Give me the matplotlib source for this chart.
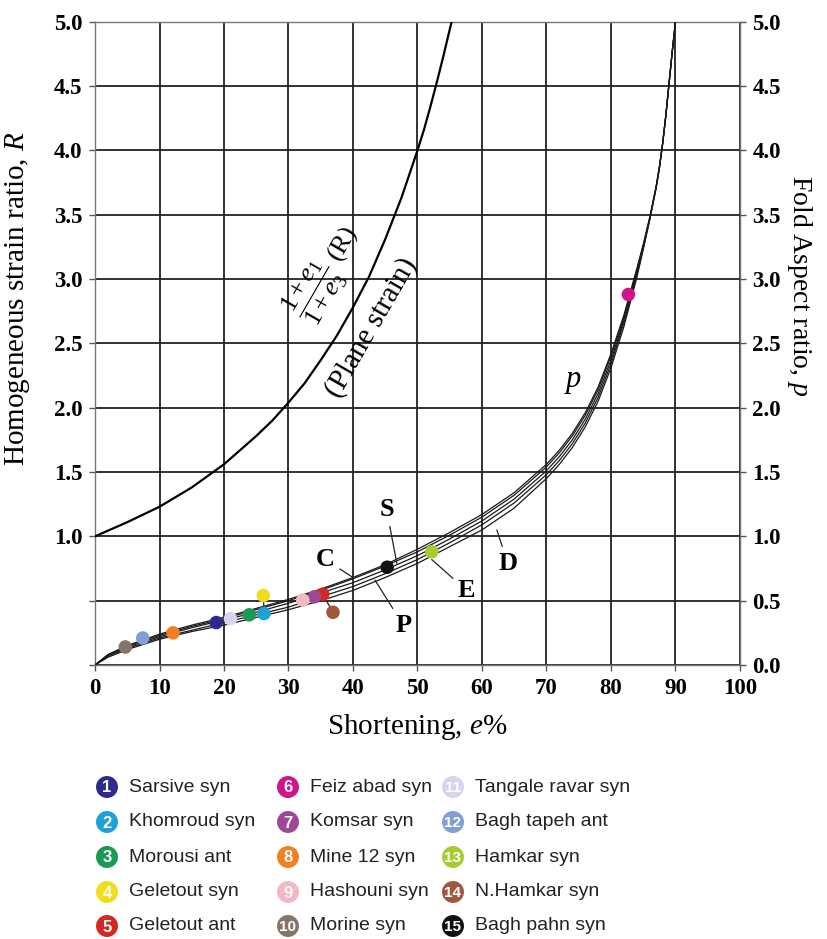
import matplotlib
matplotlib.use('Agg')
import matplotlib.pyplot as plt

plt.rcParams['font.family'] = 'Liberation Serif'
plt.rcParams['mathtext.fontset'] = 'custom'
plt.rcParams['mathtext.rm'] = 'Liberation Serif'
plt.rcParams['mathtext.it'] = 'Liberation Serif:italic'
plt.rcParams['mathtext.bf'] = 'Liberation Serif:bold'

# --- plane strain curve, R = (1+e1)/(1+e3) ---
shortening_r = [0, 5, 10, 15, 20, 25, 27.5, 30, 32.5, 35, 37.5, 40, 42.5, 45, 47.5, 50,
                51, 52, 53, 54, 55, 55.3]
ratio_r = [1.0, 1.11, 1.23, 1.38, 1.56, 1.78, 1.90, 2.04, 2.19, 2.37, 2.56, 2.78, 3.02,
           3.31, 3.63, 4.0, 4.16, 4.34, 4.53, 4.73, 4.94, 5.0]

# --- fold aspect ratio curves p (C, S, E, P, D) ---
shortening_p = [0, 2, 5, 10, 15, 20, 25, 30, 35, 40, 45, 50, 55, 60, 65, 70, 72, 74, 76,
                78, 80, 82, 84, 85, 86, 87, 87.5, 88, 88.5, 89, 89.5, 90]
p_C = [0, 0.08, 0.15, 0.24, 0.31, 0.37, 0.44, 0.51, 0.59, 0.68, 0.78, 0.90, 1.03, 1.17,
       1.34, 1.56, 1.67, 1.80, 1.96, 2.16, 2.42, 2.72, 3.08, 3.27, 3.48, 3.72, 3.87, 4.05,
       4.27, 4.52, 4.77, 5.0]
p_S = [0, 0.08, 0.15, 0.23, 0.30, 0.36, 0.43, 0.50, 0.58, 0.67, 0.77, 0.88, 1.01, 1.15,
       1.32, 1.54, 1.65, 1.78, 1.94, 2.14, 2.40, 2.70, 3.07, 3.26, 3.47, 3.72, 3.87, 4.05,
       4.27, 4.52, 4.77, 5.0]
p_E = [0, 0.07, 0.14, 0.22, 0.29, 0.35, 0.41, 0.48, 0.56, 0.64, 0.74, 0.85, 0.98, 1.12,
       1.29, 1.51, 1.62, 1.75, 1.91, 2.11, 2.37, 2.68, 3.05, 3.25, 3.47, 3.71, 3.87, 4.05,
       4.27, 4.52, 4.77, 5.0]
p_P = [0, 0.07, 0.13, 0.21, 0.27, 0.33, 0.39, 0.45, 0.53, 0.61, 0.71, 0.82, 0.95, 1.09,
       1.26, 1.48, 1.59, 1.72, 1.88, 2.08, 2.34, 2.66, 3.03, 3.24, 3.46, 3.71, 3.86, 4.05,
       4.27, 4.52, 4.77, 5.0]
p_D = [0, 0.06, 0.12, 0.20, 0.26, 0.31, 0.37, 0.43, 0.50, 0.58, 0.68, 0.79, 0.92, 1.05,
       1.22, 1.45, 1.56, 1.69, 1.85, 2.05, 2.31, 2.63, 3.01, 3.23, 3.46, 3.71, 3.86, 4.05,
       4.27, 4.52, 4.77, 5.0]

# --- measured folds ---
site_names = ['Sarsive syn', 'Khomroud syn', 'Morousi ant', 'Geletout syn', 'Geletout ant',
              'Feiz abad syn', 'Komsar syn', 'Mine 12 syn', 'Hashouni syn', 'Morine syn',
              'Tangale ravar syn', 'Bagh tapeh ant', 'Hamkar syn', 'N.Hamkar syn', 'Bagh pahn syn']
site_shortening = [18.8, 26.2, 23.9, 26.1, 35.3, 82.7, 34.0, 12.1, 32.2, 4.7, 21.0, 7.4, 52.2, 36.9, 45.3]
site_p = [0.33, 0.40, 0.39, 0.54, 0.55, 2.88, 0.53, 0.25, 0.505, 0.14, 0.36, 0.21, 0.88, 0.41, 0.76]
site_colors = ['#2e2a8c', '#1ea0d8', '#1a9a55', '#f2dc1e', '#d02a22', '#d0148c', '#9c4a98',
               '#f08020', '#f4b8c4', '#85746a', '#d8d4ee', '#7f9fd6', '#a8cc30', '#a0583c', '#111111']
# short tie lines between overlapping symbols (index pairs)
tie_pairs = [(3, 1), (13, 4)]

yticks = [0.0, 0.5, 1.0, 1.5, 2.0, 2.5, 3.0, 3.5, 4.0, 4.5, 5.0]
xticks = [0, 10, 20, 30, 40, 50, 60, 70, 80, 90, 100]

fig = plt.figure(figsize=(8.28, 9.39), dpi=100)
ax = fig.add_axes([95 / 828, 1 - 665 / 939, 645 / 828, 643.3 / 939])

ax.set_xlim(0, 100)
ax.set_ylim(0, 5)
ax.set_xticks(xticks)
ax.set_yticks(yticks)
ax.set_xticklabels([str(v) for v in xticks], fontweight='bold', fontsize=16.5)
ax.set_yticklabels(['' if v < 1 else f'{v:.1f}' for v in yticks], fontweight='bold', fontsize=16.5)
ax.grid(True, color='#222222', lw=1.3)
ax.set_axisbelow(True)
ax.tick_params(length=4, width=1, pad=5, color='#555555')
for sp in ax.spines.values():
    sp.set_color('#777777')
    sp.set_linewidth(1)

ax.set_xlabel('Shortening, $e$%', fontsize=21, labelpad=10)
ax.set_ylabel('Homogeneous strain ratio, $R$', fontsize=21)
ax.yaxis.set_label_coords(-0.098, 0.57)

ax2 = ax.twinx()
ax2.set_ylim(0, 5)
ax2.set_yticks(yticks)
ax2.set_yticklabels([f'{v:.1f}' for v in yticks], fontweight='bold', fontsize=16.5)
ax2.tick_params(length=4, width=1, pad=5, color='#555555')
for sp in ax2.spines.values():
    sp.set_visible(False)
ax2.set_ylabel('Fold Aspect ratio, $p$', fontsize=20, rotation=-90, va='center')
ax2.yaxis.set_label_coords(1.093, 0.59)

# curves
ax.plot(shortening_r, ratio_r, color='black', lw=1.6, zorder=3)
for vals in [p_C, p_S, p_E, p_P, p_D]:
    ax.plot(shortening_p, vals, color='#1a1a1a', lw=0.9, zorder=3)

for a, b in tie_pairs:
    ax.plot([site_shortening[a], site_shortening[b]], [site_p[a], site_p[b]],
            color='#333333', lw=1, zorder=4)
ax.scatter(site_shortening, site_p, s=95, c=site_colors, edgecolors='none', zorder=5)

# curve annotations
ax.text(35.8, 3.05, r'$\dfrac{1+e_1}{1+e_3}$ (R)', rotation=60, fontsize=19,
        ha='center', va='center')
ax.text(42.8, 2.62, '(Plane strain)', rotation=60, fontsize=21, ha='center', va='center')
ax.text(74.1, 2.22, 'p', style='italic', fontsize=22, ha='center', va='center')

lead = dict(arrowstyle='-', lw=0.9, color='#222222', shrinkA=2, shrinkB=0)
for lab, xy, xyt in [('S', (46.8, 0.79), (45.2, 1.21)),
                     ('C', (40.0, 0.68), (35.7, 0.82)),
                     ('E', (52.2, 0.82), (57.6, 0.58)),
                     ('P', (43.4, 0.66), (47.8, 0.31)),
                     ('D', (62.3, 1.05), (64.0, 0.79))]:
    ax.annotate(lab, xy=xy, xytext=xyt, fontsize=19, fontweight='bold',
                ha='center', va='center', arrowprops=lead, zorder=4)

# legend drawn in pixel space under the chart
leg = fig.add_axes([0, 0, 1, 1])
leg.set_xlim(0, 828)
leg.set_ylim(939, 0)
leg.axis('off')
col_x = [107, 288, 453]
row_y = [787, 822, 857, 892, 926]
for i, name in enumerate(site_names):
    cx = col_x[i // 5]
    cy = row_y[i % 5]
    leg.scatter([cx], [cy], s=250, c=site_colors[i], edgecolors='none')
    leg.text(cx, cy + 1, str(i + 1), color='white', fontsize=12 if i < 9 else 11,
             fontweight='bold', family=['Liberation Sans Narrow', 'Liberation Sans'],
             ha='center', va='center')
    leg.text(cx + 22, cy, name, fontsize=14, family='Liberation Sans',
             ha='left', va='center', color='#222222')

fig.savefig('out.png', dpi=100)
